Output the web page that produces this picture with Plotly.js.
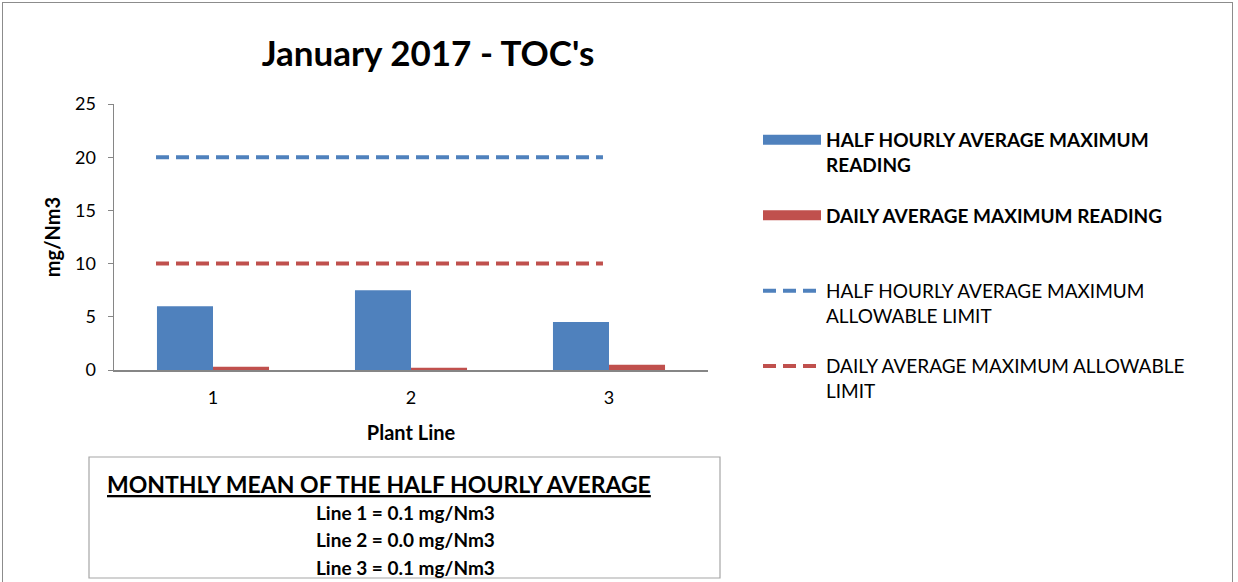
<!DOCTYPE html>
<html>
<head>
<meta charset="utf-8">
<script src="https://cdn.plot.ly/plotly-3.0.1.min.js"></script>
<style>
html,body{margin:0;padding:0;background:#fff;overflow:hidden;}
#wrap{position:relative;width:1238px;height:582px;}
#chart{position:absolute;left:0;top:0;width:1238px;height:582px;}
#frame{position:absolute;left:2px;top:2px;width:1229px;height:600px;border:1px solid #8c8c8c;pointer-events:none;}
</style>
</head>
<body>
<div id="wrap"><div id="chart"></div><div id="frame"></div></div>
<script>
// ---- data ----
const categories = ['1', '2', '3'];
const halfHourlyMax = [6.0, 7.5, 4.5];
const dailyMax = [0.3, 0.2, 0.5];
const halfHourlyLimit = [20, 20, 20];
const dailyLimit = [10, 10, 10];
const linePositions = [1, 2, 3];
const yTicks = [0, 5, 10, 15, 20, 25];
const monthlyMeanLines = ['Line 1 = 0.1 mg/Nm3', 'Line 2 = 0.0 mg/Nm3', 'Line 3 = 0.1 mg/Nm3'];

const BLUE = '#4F81BD', RED = '#C0504D';
const FONT = 'Lato, "Open Sans", sans-serif';

const traces = [
  {type:'bar', x:categories, y:halfHourlyMax, marker:{color:BLUE}, showlegend:false, hoverinfo:'y'},
  {type:'bar', x:categories, y:dailyMax, marker:{color:RED}, showlegend:false, hoverinfo:'y'},
  // legend proxies for bars
  {type:'scatter', mode:'lines', x:[null], y:[null], name:'<b>HALF HOURLY AVERAGE MAXIMUM</b><br><b>READING</b>',
   line:{color:BLUE, width:13}, legendgroup:'a'},
  {type:'scatter', mode:'lines', x:[null], y:[null], name:'<b>DAILY AVERAGE MAXIMUM READING</b><br>\u00a0',
   line:{color:RED, width:13}, legendgroup:'b'},
  {type:'scatter', mode:'lines', x:linePositions, y:halfHourlyLimit, xaxis:'x2',
   name:'HALF HOURLY AVERAGE MAXIMUM<br>ALLOWABLE LIMIT', line:{color:BLUE, width:4, dash:'13px,7px'}, legendgroup:'c'},
  {type:'scatter', mode:'lines', x:linePositions, y:dailyLimit, xaxis:'x2',
   name:'DAILY AVERAGE MAXIMUM ALLOWABLE<br>LIMIT', line:{color:RED, width:4, dash:'13px,7px'}, legendgroup:'d'}
];

const L = 114, R = 708, T = 104, B = 370;
const px = v => (v - L) / (R - L);
const py = v => (B - v) / (B - T);

const annotations = [
  {xref:'paper', yref:'paper', x:px(105), y:py(484), xanchor:'left', yanchor:'middle', showarrow:false,
   text:'<b><u>MONTHLY MEAN OF THE HALF HOURLY AVERAGE</u></b>', font:{family:FONT, size:23, color:'#000'}}
];
monthlyMeanLines.forEach((t, i) => {
  annotations.push({xref:'paper', yref:'paper', x:px(405), y:py(512 + i*27.5), xanchor:'center', yanchor:'middle',
    showarrow:false, text:'<b>' + t + '</b>', font:{family:FONT, size:19, color:'#000'}});
});

const layout = {
  width:1238, height:582,
  margin:{l:L, r:1238-R, t:T, b:582-B, pad:0},
  paper_bgcolor:'#fff', plot_bgcolor:'#fff',
  font:{family:FONT, size:18, color:'#000'},
  title:{text:"<b>January 2017 - TOC's</b>", font:{family:FONT, size:35, color:'#000'},
         xref:'paper', x:px(428), xanchor:'center', yref:'container', y:1-54/582, yanchor:'middle'},
  barmode:'group', bargap:0.434, bargroupgap:0,
  xaxis:{type:'category', range:[-0.5, 2.5], showgrid:false, zeroline:false, showline:true,
         linecolor:'#868686', linewidth:2, ticks:'', tickfont:{family:FONT, size:18}, ticklabelstandoff:10,
         title:{text:'<b>Plant Line</b>', font:{family:FONT, size:20}, standoff:19}, fixedrange:true},
  xaxis2:{overlaying:'x', range:[0.812, 3.47], visible:false, fixedrange:true},
  yaxis:{range:[0, 25], tickvals:yTicks, showgrid:false, zeroline:false, showline:true,
         linecolor:'#868686', linewidth:1.5, ticks:'outside', ticklen:5, tickcolor:'#868686', ticklabelstandoff:8,
         tickfont:{family:FONT, size:18}, title:{text:'<b>mg/Nm3</b>', font:{family:FONT, size:20}, standoff:9},
         fixedrange:true},
  legend:{x:px(758), y:py(121), xanchor:'left', yanchor:'top', valign:'top', maxheight:420,
          font:{family:FONT, size:19, color:'#000'}, itemwidth:58, tracegroupgap:23, bgcolor:'rgba(0,0,0,0)'},
  shapes:[
    {type:'rect', xref:'paper', yref:'paper', x0:px(89), x1:px(720), y0:py(457), y1:py(578),
     line:{color:'#a6a6a6', width:1.2}, fillcolor:'rgba(0,0,0,0)'}
  ],
  annotations:annotations
};

Plotly.newPlot('chart', traces, layout, {displayModeBar:false, staticPlot:true});
</script>
</body>
</html>
